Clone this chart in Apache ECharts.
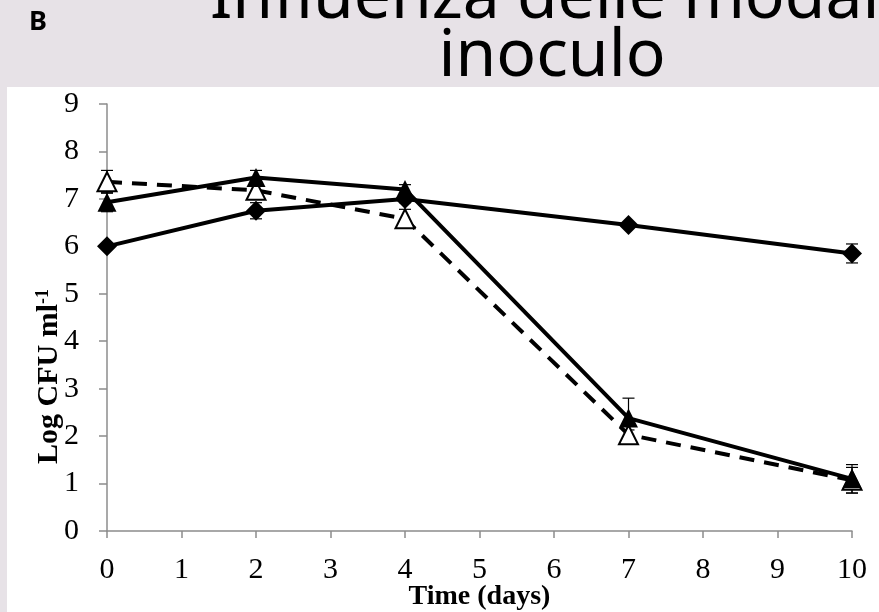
<!DOCTYPE html>
<html>
<head>
<meta charset="utf-8">
<script src="https://cdn.jsdelivr.net/npm/echarts@6/dist/echarts.min.js"></script>
<style>
  html, body { margin: 0; padding: 0; background: #fff; }
  #chart { width: 879px; height: 612px; }
</style>
</head>
<body>
<div id="chart"></div>
<script>
// sampling days and log counts
const days = [0, 2, 4, 7, 10]

const diamondVals = [6.0, 6.75, 7.0, 6.45, 5.85]
const diamondErr = [0.05, 0.17, 0.08, 0.05, 0.2]
const fullTriVals = [6.93, 7.45, 7.2, 2.38, 1.1]
const fullTriErr = [0.2, 0.15, 0.1, 0.42, 0.3]
const openTriVals = [7.36, 7.18, 6.58, 2.03, 1.07]
const openTriErr = [0.24, 0.15, 0.2, 0.1, 0.27]

const serif = '"Liberation Serif", "Times New Roman", serif'
const axisGrey = '#8c8c8c'

function pairs(vals) {
  return days.map((d, i) => [d, vals[i]])
}
function errData(vals, errs) {
  return days.map((d, i) => [d, vals[i] - errs[i], vals[i] + errs[i]])
}
function errSeries(vals, errs) {
  return {
    type: 'custom',
    z: 1,
    silent: true,
    data: errData(vals, errs),
    renderItem: function(params, api) {
      const lo = api.coord([api.value(0), api.value(1)])
      const hi = api.coord([api.value(0), api.value(2)])
      const w = 6
      const st = { stroke: '#000', lineWidth: 1.2 }
      return {
        type: 'group',
        children: [
          { type: 'line', shape: { x1: lo[0], y1: lo[1], x2: hi[0], y2: hi[1] }, style: st },
          { type: 'line', shape: { x1: lo[0] - w, y1: lo[1], x2: lo[0] + w, y2: lo[1] }, style: st },
          { type: 'line', shape: { x1: hi[0] - w, y1: hi[1], x2: hi[0] + w, y2: hi[1] }, style: st }
        ]
      }
    }
  }
}

const chart = echarts.init(document.getElementById('chart'))

const option = {
  backgroundColor: '#fff',
  animation: false,
  graphic: [
    { type: 'rect', z: -10, shape: { x: 0, y: 0, width: 879, height: 87 }, style: { fill: '#e7e2e7' } },
    { type: 'rect', z: -10, shape: { x: 0, y: 0, width: 7, height: 612 }, style: { fill: '#e7e2e7' } },
    {
      type: 'text', left: 29, top: 9, z: 10,
      style: { text: 'B', font: 'bold 27px "Noto Sans", sans-serif', fill: '#000' }
    },
    {
      type: 'text', x: 210, y: 32, z: 10,
      style: {
        text: 'Influenza delle modalità di',
        font: '66px "Noto Sans", sans-serif',
        fill: '#000', align: 'left', verticalAlign: 'bottom'
      }
    },
    {
      type: 'text', x: 552, y: 57, z: 10,
      style: {
        text: 'inoculo',
        font: '66px "Noto Sans", sans-serif',
        fill: '#000', align: 'center', verticalAlign: 'middle'
      }
    }
  ],
  grid: { left: 107, right: 27, top: 104, bottom: 81, outerBoundsMode: 'none', containLabel: false },
  xAxis: {
    type: 'value',
    min: 0,
    max: 10,
    interval: 1,
    name: 'Time (days)',
    nameLocation: 'middle',
    nameGap: 52,
    nameMoveOverlap: false,
    nameTextStyle: { fontFamily: serif, fontWeight: 'bold', fontSize: 28, color: '#000' },
    axisLine: { lineStyle: { color: axisGrey, width: 1.5 } },
    axisTick: { length: 7, lineStyle: { color: axisGrey, width: 1.5 } },
    axisLabel: { fontFamily: serif, fontSize: 30, color: '#000', margin: 24 },
    splitLine: { show: false }
  },
  yAxis: {
    type: 'value',
    min: 0,
    max: 9,
    interval: 1,
    name: 'Log CFU ml{sup|-1}',
    nameLocation: 'middle',
    nameGap: 43,
    nameMoveOverlap: false,
    nameTextStyle: {
      fontFamily: serif, fontWeight: 'bold', fontSize: 30, color: '#000',
      padding: [0, 118, 0, 0],
      rich: { sup: { fontFamily: serif, fontWeight: 'bold', fontSize: 18, color: '#000', verticalAlign: 'top', padding: [0, 0, 12, 0] } }
    },
    axisLine: { show: true, lineStyle: { color: axisGrey, width: 1.5 } },
    axisTick: { show: true, length: 8, lineStyle: { color: axisGrey, width: 1.5 } },
    axisLabel: { fontFamily: serif, fontSize: 30, color: '#000', margin: 28 },
    splitLine: { show: false }
  },
  series: [
    errSeries(diamondVals, diamondErr),
    errSeries(fullTriVals, fullTriErr),
    errSeries(openTriVals, openTriErr),
    {
      type: 'line',
      z: 3,
      data: pairs(openTriVals),
      symbol: 'triangle',
      symbolSize: 19,
      lineStyle: { color: '#000', width: 4, type: [15, 10] },
      itemStyle: { color: '#fff', borderColor: '#000', borderWidth: 2 }
    },
    {
      type: 'line',
      z: 4,
      data: pairs(diamondVals),
      symbol: 'diamond',
      symbolSize: 20,
      lineStyle: { color: '#000', width: 4 },
      itemStyle: { color: '#000' }
    },
    {
      type: 'line',
      z: 5,
      data: pairs(fullTriVals),
      symbol: 'triangle',
      symbolSize: 19,
      lineStyle: { color: '#000', width: 4 },
      itemStyle: { color: '#000' }
    }
  ]
}

chart.setOption(option)
</script>
</body>
</html>
